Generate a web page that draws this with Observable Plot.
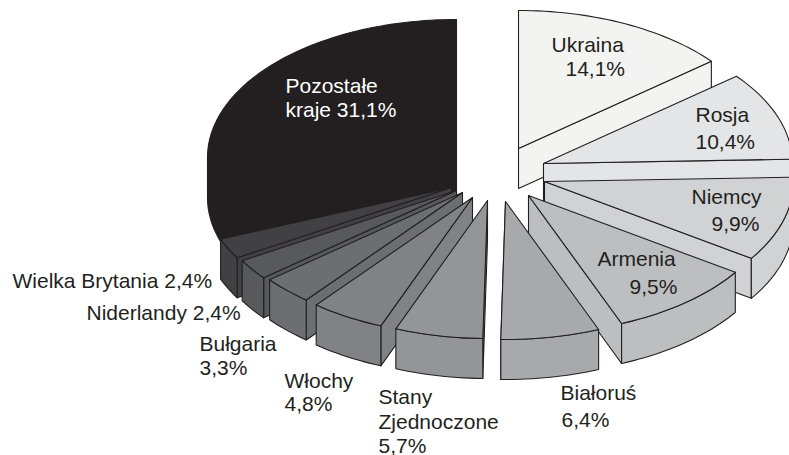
<!DOCTYPE html>
<html><head><meta charset="utf-8">
<script src="https://cdn.jsdelivr.net/npm/d3@7"></script>
<script src="https://cdn.jsdelivr.net/npm/@observablehq/plot@0.6"></script>
<style>html,body{margin:0;padding:0;background:#fff}svg{display:block}</style>
</head><body><div id="chart"></div>
<script>
// Data, clockwise from the top
const countries = ["Ukraina","Rosja","Niemcy","Armenia","Białoruś","Stany Zjednoczone","Włochy","Bułgaria","Niderlandy","Wielka Brytania","Pozostałe kraje"];
const shares = [14.1,10.4,9.9,9.5,6.4,5.7,4.8,3.3,2.4,2.4,31.1];
const shades = ["#f3f4f2","#e4e5e7","#d1d2d4","#bcbec0","#a7a9ac","#939598","#808285","#6d6e71","#58595b","#414042","#231f20"];

// Layout of the exploded pie
const apexX = [518,543,544,528,505,487,472,462,456,451,456];
const apexY = [148,163,181,195,201,200,197,192,190,187,157];
const rx = 249, ry = 138, depth = 40;
const paintOrder = [0,1,2,3,10,9,8,7,6,5,4];

// Text lines
const labelText = ["Ukraina","14,1%","Rosja","10,4%","Niemcy","9,9%","Armenia","9,5%","Białoruś","6,4%","Stany","Zjednoczone","5,7%","Włochy","4,8%","Bułgaria","3,3%","Niderlandy 2,4%","Wielka Brytania 2,4%","Pozostałe","kraje 31,1%"];
const labelX = [551,565,695,695,691,711,597,629,560,561,378,378,378,284,284,199,199,86,12,285,285];
const labelY = [51,75,121,148,203,230,265,293,399,426,403,428,452,387,410,350,374,319,287,92,116];
const labels = labelText.map((text,i)=>({text,x:labelX[i],y:labelY[i]}));

const rad = a => a*Math.PI/180;
const rim = (i,a,dz=0) => ({x:apexX[i]+rx*Math.sin(rad(a)), y:apexY[i]-ry*Math.cos(rad(a))+dz});
const arcPts = (i,a0,a1,dz=0) => { const n=Math.max(2,Math.ceil((a1-a0)/1.5)); return d3.range(n+1).map(k=>rim(i,a0+(a1-a0)*k/n,dz)); };

const cum = d3.cumsum(shares).map(v=>v*3.6);
const faces = [];
let fid = 0;
function face(i,pts){ const id=fid++; pts=[...pts,pts[0]]; pts.forEach(p=>faces.push({id,x:p.x,y:p.y,fill:shades[i]})); }
for (const i of paintOrder){
  const a0 = i?cum[i-1]:0, a1 = cum[i];
  const A = {x:apexX[i],y:apexY[i]}, B = {x:apexX[i],y:apexY[i]+depth};
  if (a1 < 185) face(i,[A,B,rim(i,a1,depth),rim(i,a1)]);
  if (a0 > 175) face(i,[A,B,rim(i,a0,depth),rim(i,a0)]);
  const w0 = Math.max(a0,90), w1 = Math.min(a1,270);
  if (w1 > w0) face(i,[...arcPts(i,w0,w1),...arcPts(i,w0,w1,depth).reverse()]);
  face(i,[A,...arcPts(i,a0,a1)]);
}

const plot = Plot.plot({
  width:789, height:455, margin:0,
  x:{domain:[0,789],range:[0,789],axis:null},
  y:{domain:[0,455],range:[0,455],axis:null},
  color:{type:"identity"},
  marks:[
    Plot.line(faces,{x:"x",y:"y",z:"id",fill:"fill",stroke:"#231f20",strokeWidth:1.1,strokeLinejoin:"round",curve:"linear"}),
    Plot.text(labels,{x:"x",y:"y",text:"text",textAnchor:"start",lineAnchor:"bottom",fontSize:21,fontFamily:"Liberation Sans",fill:d=>d.text.startsWith("Pozosta")||d.text.startsWith("kraje")?"#ffffff":"#231f20"})
  ]
});
document.getElementById("chart").append(plot);
</script></body></html>
